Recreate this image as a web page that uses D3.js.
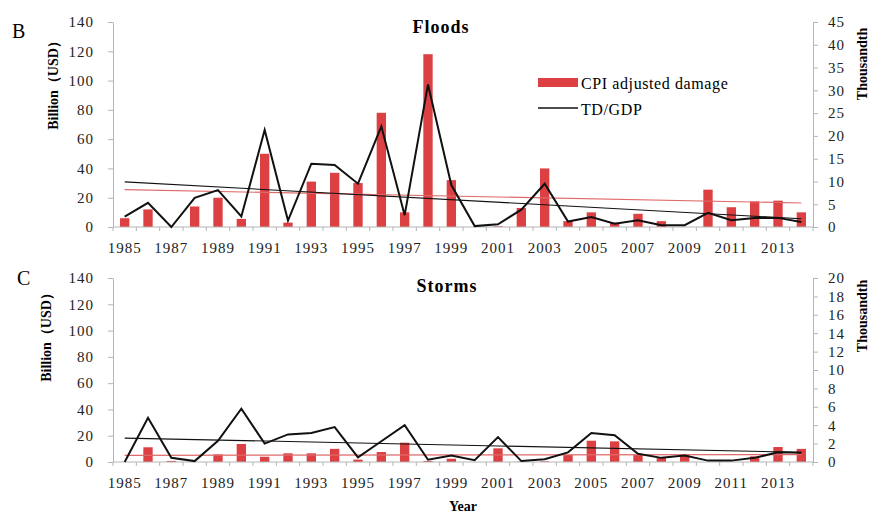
<!DOCTYPE html>
<html>
<head>
<meta charset="utf-8">
<script src="https://cdn.jsdelivr.net/npm/d3@7"></script>
<style>
  body { margin: 0; background: #fff; }
  svg { display: block; }
  svg text { font-family: "Times New Roman", "Liberation Serif", "DejaVu Serif", serif; }
  .axis path, .axis line { stroke: #b5b5b5; }
  .axis text { fill: #222; font-size: 15px; letter-spacing: 1px; }
</style>
</head>
<body>
<svg id="chart" width="872" height="513"></svg>
<script>
var years = d3.range(1985, 2015);
var yearLabels = years.filter(function(y){ return (y - 1985) % 2 == 0; });

// Floods
var floodDamage = [6, 12, 0, 14, 20, 5.5, 50, 3, 31, 37, 30, 78, 10, 118, 32, 0, 0.5, 13, 40, 4,
                   10, 3, 9, 4, 0, 25.5, 13.5, 17.5, 18, 10];
var floodRatio = [2.3, 5.3, 0, 6.4, 8.1, 2.3, 21.3, 1.4, 13.9, 13.6, 9.5, 22.1, 2.6, 31.3, 9.2, 0.2, 0.6, 3.8, 9.5, 1.2,
                  2.2, 0.7, 1.5, 0.4, 0.4, 3.1, 1.5, 2, 2, 1.1];
var floodDamageTrend = [25.5, 16.4];
var floodRatioTrend = [9.9, 1.8];

// Storms
var stormDamage = [0, 11.2, 0.8, 0, 5.8, 13.7, 4, 6.6, 6.6, 10, 1.8, 7.6, 14.7, 0.8, 2.5, 0, 10.4, 0.3, 0.5, 5.3,
                   16.2, 15.7, 5.3, 3.3, 6, 0, 0, 4.3, 11.4, 10];
var stormRatio = [0, 4.8, 0.45, 0.1, 2.3, 5.8, 2, 3, 3.15, 3.8, 0.5, 2.25, 4, 0.25, 0.7, 0.2, 2.7, 0.1, 0.3, 1.05,
                  3.15, 2.9, 0.9, 0.45, 0.7, 0.15, 0.15, 0.45, 1.05, 1];
var stormDamageTrend = [5.1, 5.6];
var stormRatioTrend = [2.6, 1.05];

var leftTicks = [0, 20, 40, 60, 80, 100, 120, 140];
var floodRightTicks = [0, 5, 10, 15, 20, 25, 30, 35, 40, 45];
var stormRightTicks = [0, 2, 4, 6, 8, 10, 12, 14, 16, 18, 20];

var barColor = "#dc4043";
var svg = d3.select("#chart");
var left = 113, right = 813;

function drawPanel(p) {
  var g = svg.append("g");

  var x = d3.scaleBand().domain(years).range([left, right]).paddingInner(0.6).paddingOuter(0.3);
  var xc = function(yr){ return x(yr) + x.bandwidth() / 2; };
  var y = d3.scaleLinear().domain([0, 140]).range([p.bottom, p.top]);
  var y2 = d3.scaleLinear().domain([0, p.rightMax]).range([p.bottom, p.top]);
  var step = x.step();

  // bars
  g.selectAll(".bar")
    .data(years.map(function(yr, i){ return {year: yr, v: p.damage[i]}; }))
    .enter().append("rect")
    .attr("fill", barColor)
    .attr("x", function(d){ return x(d.year); })
    .attr("width", x.bandwidth())
    .attr("y", function(d){ return y(d.v); })
    .attr("height", function(d){ return p.bottom - y(d.v); });

  // x axis, tick marks between categories
  var xa = g.append("g").attr("class", "axis");
  xa.append("line").attr("x1", left).attr("x2", right).attr("y1", p.bottom).attr("y2", p.bottom);
  xa.selectAll(".xt")
    .data(d3.range(0, years.length + 1))
    .enter().append("line")
    .attr("x1", function(i){ return xc(years[0]) - step / 2 + i * step; })
    .attr("x2", function(i){ return xc(years[0]) - step / 2 + i * step; })
    .attr("y1", p.bottom).attr("y2", p.bottom + 4);
  xa.selectAll(".xl")
    .data(yearLabels)
    .enter().append("text")
    .attr("x", function(d){ return xc(d); })
    .attr("y", p.bottom + 26)
    .attr("text-anchor", "middle")
    .text(function(d){ return d; });

  // left axis
  g.append("g").attr("class", "axis")
    .attr("transform", "translate(" + left + ",0)")
    .call(d3.axisLeft(y).tickValues(leftTicks).tickSize(5).tickSizeOuter(0).tickPadding(14));

  // right axis
  g.append("g").attr("class", "axis")
    .attr("transform", "translate(" + right + ",0)")
    .call(d3.axisRight(y2).tickValues(p.rightTicks).tickSize(5).tickSizeOuter(0).tickPadding(10));

  // trend lines
  g.append("line")
    .attr("x1", xc(years[0])).attr("x2", xc(years[years.length - 1]))
    .attr("y1", y(p.damageTrend[0])).attr("y2", y(p.damageTrend[1]))
    .attr("stroke", "#e06a6a").attr("stroke-width", 1.2);
  g.append("line")
    .attr("x1", xc(years[0])).attr("x2", xc(years[years.length - 1]))
    .attr("y1", y2(p.ratioTrend[0])).attr("y2", y2(p.ratioTrend[1]))
    .attr("stroke", "#111").attr("stroke-width", 1.1);

  // ratio line
  var line = d3.line()
    .x(function(d, i){ return xc(years[i]); })
    .y(function(d){ return y2(d); });
  g.append("path")
    .datum(p.ratio)
    .attr("fill", "none")
    .attr("stroke", "#111")
    .attr("stroke-width", 2)
    .attr("d", line);

  // titles
  g.append("text")
    .attr("x", p.titleX).attr("y", p.titleY)
    .attr("text-anchor", "middle")
    .style("font-size", "18px").style("font-weight", "bold").style("letter-spacing", "1px")
    .text(p.title);
  g.append("text")
    .attr("x", p.letterX).attr("y", p.letterY)
    .style("font-size", "20px")
    .text(p.letter);
  g.append("text")
    .attr("transform", "translate(" + p.yLabelX + "," + p.yLabelY + ") rotate(-90)")
    .attr("text-anchor", "middle")
    .style("font-size", "14px").style("font-weight", "bold")
    .text("Billion（USD）");
  g.append("text")
    .attr("transform", "translate(" + p.y2LabelX + "," + p.y2LabelY + ") rotate(-90)")
    .attr("text-anchor", "middle")
    .style("font-size", "14px").style("font-weight", "bold")
    .text("Thousandth");
}

drawPanel({
  top: 22, bottom: 227, rightMax: 45, rightTicks: floodRightTicks,
  damage: floodDamage, ratio: floodRatio,
  damageTrend: floodDamageTrend, ratioTrend: floodRatioTrend,
  title: "Floods", titleX: 441, titleY: 33,
  letter: "B", letterX: 12, letterY: 38,
  yLabelX: 58, yLabelY: 82, y2LabelX: 867, y2LabelY: 64
});

drawPanel({
  top: 278, bottom: 462, rightMax: 20, rightTicks: stormRightTicks,
  damage: stormDamage, ratio: stormRatio,
  damageTrend: stormDamageTrend, ratioTrend: stormRatioTrend,
  title: "Storms", titleX: 447, titleY: 292,
  letter: "C", letterX: 17, letterY: 285,
  yLabelX: 51, yLabelY: 334, y2LabelX: 867, y2LabelY: 316
});

// legend
var legend = svg.append("g");
legend.append("rect").attr("x", 538).attr("y", 78).attr("width", 40).attr("height", 9).attr("fill", barColor);
legend.append("text").attr("x", 581).attr("y", 89).style("font-size", "16px").style("letter-spacing", "0.6px")
  .text("CPI adjusted damage");
legend.append("line").attr("x1", 538).attr("x2", 578).attr("y1", 108).attr("y2", 108)
  .attr("stroke", "#111").attr("stroke-width", 1.6);
legend.append("text").attr("x", 581).attr("y", 115).style("font-size", "16px").style("letter-spacing", "0.6px")
  .text("TD/GDP");

// x axis title
svg.append("text").attr("x", 463).attr("y", 511).attr("text-anchor", "middle")
  .style("font-size", "14px").style("font-weight", "bold")
  .text("Year");
</script>
</body>
</html>
